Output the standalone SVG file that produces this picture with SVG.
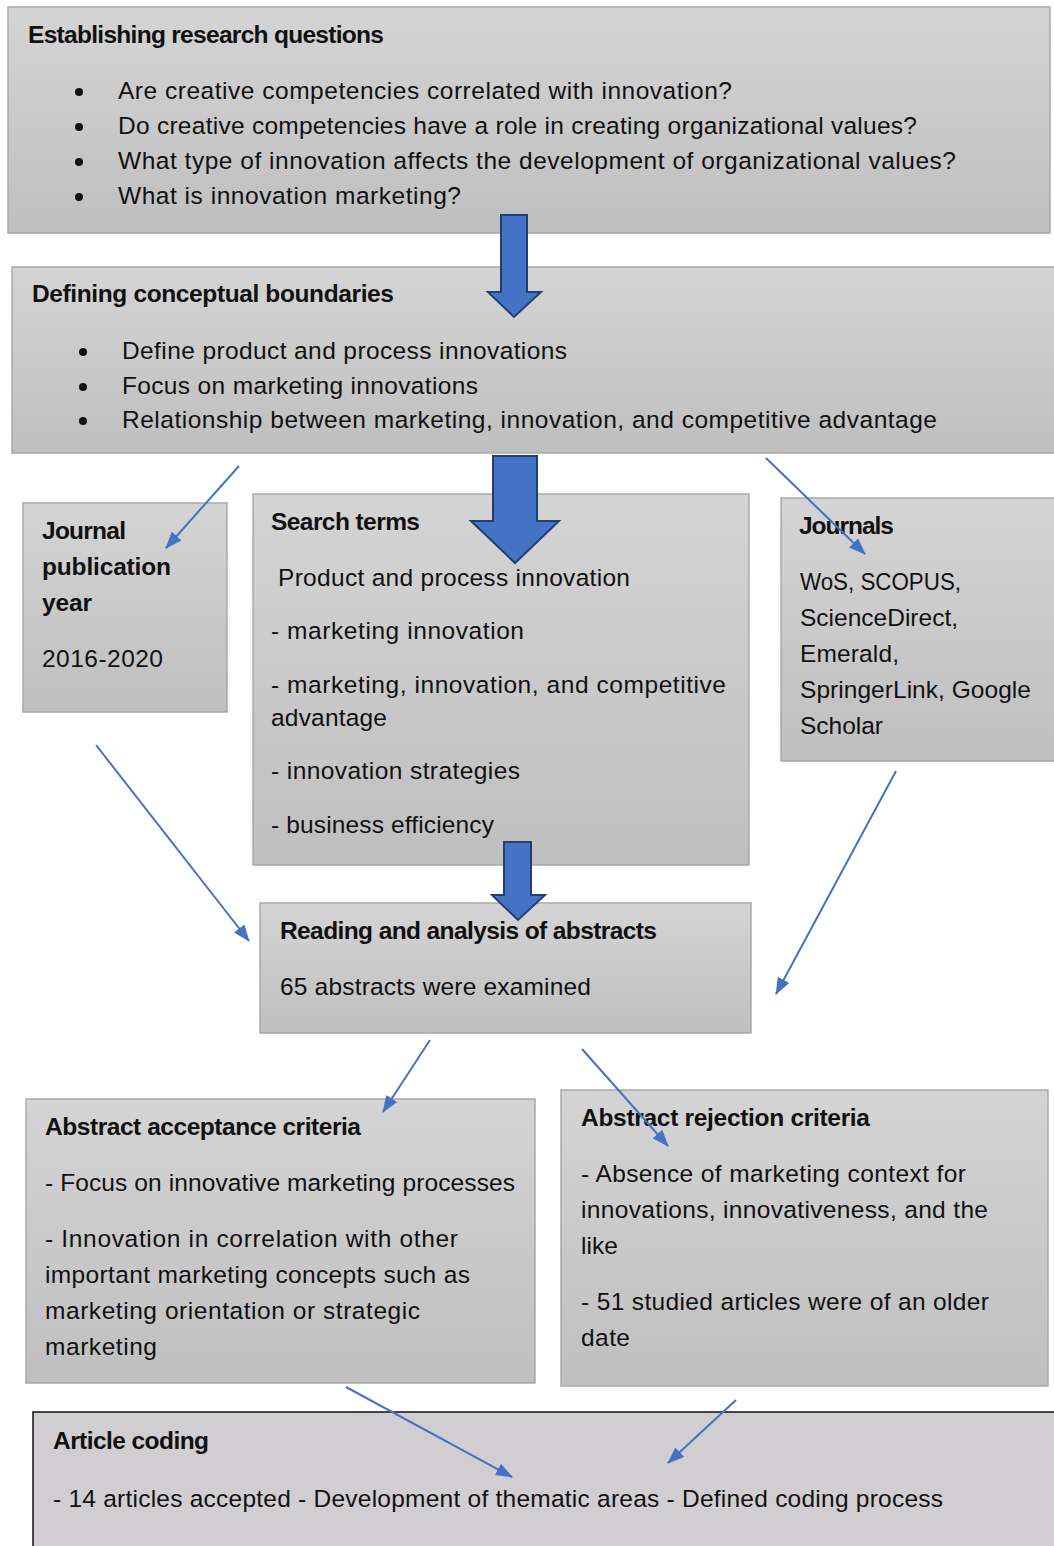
<svg xmlns="http://www.w3.org/2000/svg" width="1054" height="1546" viewBox="0 0 1054 1546">
<style>
.box{fill:url(#g);stroke:#a9a9a9;stroke-width:1.5}
.t{font-family:"Liberation Sans",Arial,sans-serif;font-size:24.5px;fill:#111}
.b{font-weight:bold}
.dot{fill:#111}
.big{fill:#4472c4;stroke:#233f72;stroke-width:2}
.thin{stroke:#4472c4;stroke-width:2;fill:none;marker-end:url(#ah)}
</style>
<defs>
<linearGradient id="g" x1="0" y1="0" x2="0" y2="1">
<stop offset="0" stop-color="#d4d4d4"/>
<stop offset="1" stop-color="#bfbfbf"/>
</linearGradient>
<marker id="ah" markerUnits="userSpaceOnUse" markerWidth="17" markerHeight="13" viewBox="0 0 17 13" refX="16" refY="6.5" orient="auto">
<path d="M0,0 L17,6.5 L0,13 Z" fill="#4472c4"/>
</marker>
</defs>
<rect width="1054" height="1546" fill="#fff"/>

<g id="n1">
<rect class="box" x="8" y="7" width="1042" height="226"/>
<text class="t b" x="28" y="43" textLength="356">Establishing research questions</text>
<circle class="dot" cx="79" cy="92" r="4"/><text class="t" x="118" y="99" textLength="614">Are creative competencies correlated with innovation?</text>
<circle class="dot" cx="79" cy="127" r="4"/><text class="t" x="118" y="134" textLength="799">Do creative competencies have a role in creating organizational values?</text>
<circle class="dot" cx="79" cy="162" r="4"/><text class="t" x="118" y="169" textLength="838">What type of innovation affects the development of organizational values?</text>
<circle class="dot" cx="79" cy="197" r="4"/><text class="t" x="118" y="204" textLength="343">What is innovation marketing?</text>
</g>

<g id="n2">
<rect class="box" x="12" y="267" width="1046" height="186"/>
<text class="t b" x="32" y="302" textLength="362">Defining conceptual boundaries</text>
<circle class="dot" cx="83" cy="352" r="4"/><text class="t" x="122" y="359" textLength="445">Define product and process innovations</text>
<circle class="dot" cx="83" cy="387" r="4"/><text class="t" x="122" y="394" textLength="356">Focus on marketing innovations</text>
<circle class="dot" cx="83" cy="421" r="4"/><text class="t" x="122" y="428" textLength="815">Relationship between marketing, innovation, and competitive advantage</text>
</g>

<g id="n3">
<rect class="box" x="23" y="503" width="204" height="209"/>
<text class="t b" x="42" y="539" textLength="84">Journal</text>
<text class="t b" x="42" y="575" textLength="129">publication</text>
<text class="t b" x="42" y="611" textLength="50">year</text>
<text class="t" x="42" y="667" textLength="121">2016-2020</text>
</g>

<g id="n4">
<rect class="box" x="253" y="494" width="496" height="371"/>
<text class="t b" x="271" y="530" textLength="149">Search terms</text>
<text class="t" x="278" y="586" textLength="352">Product and process innovation</text>
<text class="t" x="271" y="639" textLength="253">- marketing innovation</text>
<text class="t" x="271" y="693" textLength="455">- marketing, innovation, and competitive</text>
<text class="t" x="271" y="726" textLength="116">advantage</text>
<text class="t" x="271" y="779" textLength="249">- innovation strategies</text>
<text class="t" x="271" y="833" textLength="223">- business efficiency</text>
</g>

<g id="n5">
<rect class="box" x="781" y="498" width="280" height="263"/>
<text class="t b" x="799" y="534" textLength="95">Journals</text>
<text class="t" x="800" y="590" textLength="161" lengthAdjust="spacingAndGlyphs">WoS, SCOPUS,</text>
<text class="t" x="800" y="626" textLength="158">ScienceDirect,</text>
<text class="t" x="800" y="662" textLength="99">Emerald,</text>
<text class="t" x="800" y="698" textLength="231">SpringerLink, Google</text>
<text class="t" x="800" y="734" textLength="83">Scholar</text>
</g>

<g id="n6">
<rect class="box" x="260" y="903" width="491" height="130"/>
<text class="t b" x="280" y="939" textLength="377">Reading and analysis of abstracts</text>
<text class="t" x="280" y="995" textLength="311">65 abstracts were examined</text>
</g>

<g id="n7">
<rect class="box" x="26" y="1099" width="509" height="284"/>
<text class="t b" x="45" y="1135" textLength="316">Abstract acceptance criteria</text>
<text class="t" x="45" y="1191" textLength="470">- Focus on innovative marketing processes</text>
<text class="t" x="45" y="1247" textLength="413">- Innovation in correlation with other</text>
<text class="t" x="45" y="1283" textLength="425">important marketing concepts such as</text>
<text class="t" x="45" y="1319" textLength="375">marketing orientation or strategic</text>
<text class="t" x="45" y="1355" textLength="112">marketing</text>
</g>

<g id="n8">
<rect class="box" x="561" y="1090" width="487" height="296"/>
<text class="t b" x="581" y="1126" textLength="289">Abstract rejection criteria</text>
<text class="t" x="581" y="1182" textLength="385">- Absence of marketing context for</text>
<text class="t" x="581" y="1218" textLength="407">innovations, innovativeness, and the</text>
<text class="t" x="581" y="1254" textLength="37">like</text>
<text class="t" x="581" y="1310" textLength="408">- 51 studied articles were of an older</text>
<text class="t" x="581" y="1346" textLength="49">date</text>
</g>

<g id="n9">
<rect x="33" y="1412" width="1040" height="150" fill="#d0ced0" stroke="#111" stroke-width="1.5"/>
<text class="t b" x="53" y="1449" textLength="156">Article coding</text>
<text class="t" x="53" y="1507" textLength="890">- 14 articles accepted - Development of thematic areas - Defined coding process</text>
</g>

<g id="connectors">
<path class="big" d="M501,215 H527 V292 H541 L514,317 L488,292 H501 Z"/>
<path class="big" d="M493,456 H537 V521 H559 L515,563 L471,521 H493 Z"/>
<path class="big" d="M504,842 H531 V895 H545 L518,920 L492,895 H504 Z"/>
<line class="thin" x1="239" y1="466" x2="166" y2="548"/>
<line class="thin" x1="766" y1="458" x2="865" y2="554"/>
<line class="thin" x1="96" y1="745" x2="249" y2="941"/>
<line class="thin" x1="896" y1="771" x2="776" y2="994"/>
<line class="thin" x1="430" y1="1040" x2="383" y2="1112"/>
<line class="thin" x1="582" y1="1049" x2="668" y2="1146"/>
<line class="thin" x1="346" y1="1387" x2="512" y2="1477"/>
<line class="thin" x1="736" y1="1400" x2="668" y2="1463"/>
</g>
</svg>
